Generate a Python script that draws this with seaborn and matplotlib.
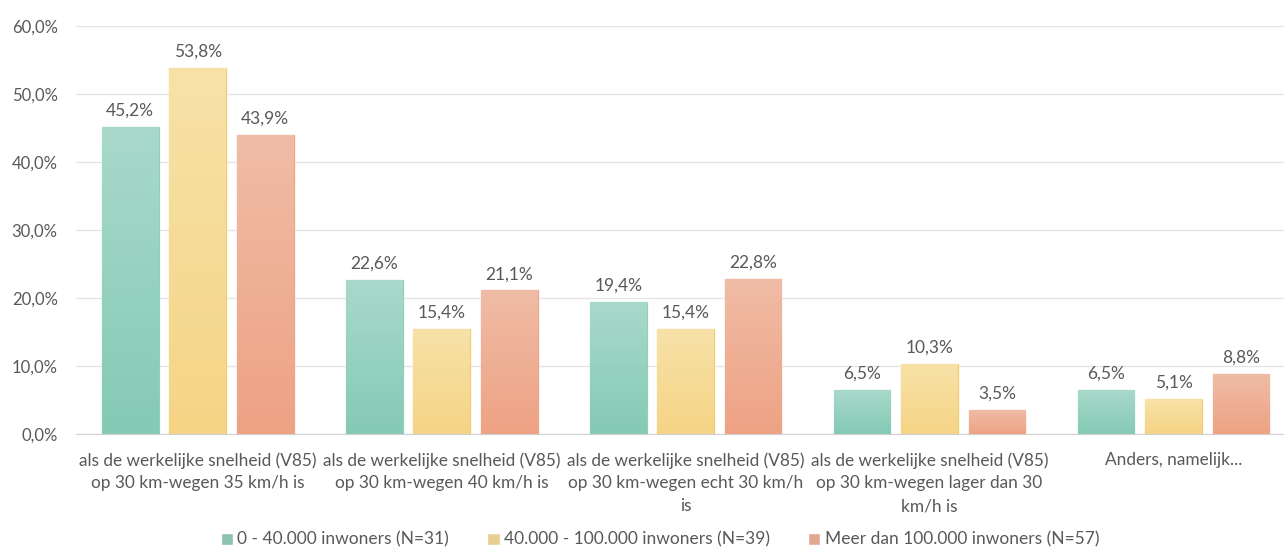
import matplotlib.pyplot as plt
import matplotlib.colors as mcolors
import numpy as np
import pandas as pd
import seaborn as sns

categories = [
    "als de werkelijke snelheid (V85)\nop 30 km-wegen 35 km/h is",
    "als de werkelijke snelheid (V85)\nop 30 km-wegen 40 km/h is",
    "als de werkelijke snelheid (V85)\nop 30 km-wegen echt 30 km/h\nis",
    "als de werkelijke snelheid (V85)\nop 30 km-wegen lager dan 30\nkm/h is",
    "Anders, namelijk...",
]
groups = [
    "0 - 40.000 inwoners (N=31)",
    "40.000 - 100.000 inwoners (N=39)",
    "Meer dan 100.000 inwoners (N=57)",
]
small = [45.2, 22.6, 19.4, 6.5, 6.5]
medium = [53.8, 15.4, 15.4, 10.3, 5.1]
large = [43.9, 21.1, 22.8, 3.5, 8.8]
yticks = [0, 10, 20, 30, 40, 50, 60]

top_colors = ["#a9d9cb", "#f8e2a8", "#f0bca6"]
bottom_colors = ["#84cab5", "#f5d485", "#eea284"]
edge_colors = ["#8fd0bd", "#f0cc70", "#eca587"]

df = pd.DataFrame({
    "categorie": categories * 3,
    "groep": [g for g in groups for _ in categories],
    "waarde": small + medium + large,
})

sns.set_style("white")
plt.rcParams["font.family"] = ["Lato", "DejaVu Sans"]
text_color = "#595959"

fig = plt.figure(figsize=(12.84, 5.52), dpi=100)
ax = fig.add_axes([0.059, 0.2138, 0.950, 0.7392])

sns.barplot(data=df, x="categorie", y="waarde", hue="groep", hue_order=groups,
            palette=bottom_colors, width=0.83, gap=0.16, ax=ax, legend=True)

# gradient fill per bar
for i, cont in enumerate(ax.containers):
    cmap = mcolors.LinearSegmentedColormap.from_list(
        f"g{i}", [bottom_colors[i], top_colors[i]])
    for bar in cont:
        x0, y0 = bar.get_x(), bar.get_y()
        w, h = bar.get_width(), bar.get_height()
        bar.set_facecolor("none")
        bar.set_edgecolor(edge_colors[i])
        bar.set_linewidth(0.9)
        grad = np.linspace(0, 1, 256).reshape(-1, 1)
        im = ax.imshow(grad, cmap=cmap, origin="lower", aspect="auto",
                       extent=[x0, x0 + w, y0, y0 + h], zorder=1.5)
        im.set_clip_path(bar)
    ax.bar_label(cont, labels=[f"{v:.1f}%".replace(".", ",") for v in cont.datavalues],
                 padding=6, fontsize=12.5, color=text_color)

ax.set_xlim(-0.5, len(categories) - 0.5)
ax.set_ylim(0, 60)
ax.set_yticks(yticks)
ax.set_yticklabels([f"{t:.1f}%".replace(".", ",") for t in yticks])
ax.grid(axis="y", color="#e4e4e4", linewidth=0.9)
ax.set_axisbelow(True)
for s in ["top", "right", "left"]:
    ax.spines[s].set_visible(False)
ax.spines["bottom"].set_color("#d0d0d0")
ax.tick_params(axis="both", length=0, colors=text_color)
ax.tick_params(axis="y", pad=13, labelsize=12)
ax.tick_params(axis="x", pad=13, labelsize=12.4)
ax.set_xlabel("")
ax.set_ylabel("")
for lbl in ax.get_xticklabels():
    lbl.set_linespacing(1.52)
    lbl.set_verticalalignment("top")

handles, labels = ax.get_legend_handles_labels()
ax.get_legend().remove()
fig.legend(handles, labels, loc="center", bbox_to_anchor=(0.514, 0.022),
           ncol=3, frameon=False, fontsize=12.5, labelcolor=text_color,
           handlelength=0.7, handleheight=0.7, handletextpad=0.25, columnspacing=2.2)

fig.savefig("out.png", dpi=100)
